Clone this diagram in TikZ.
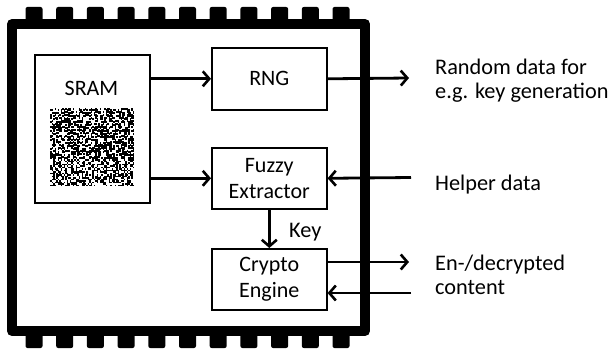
\documentclass[tikz,border=0pt]{standalone}
\usepackage{fontspec}
\setmainfont{Carlito}
\usetikzlibrary{arrows.meta}
\begin{document}
\begin{tikzpicture}[x=1pt,y=-1pt,
  blk/.style={draw, line width=1.6pt, minimum width=115pt, inner sep=0pt, align=center,
    anchor=north west, font=\fontsize{22}{26}\selectfont},
  conn/.style={line width=2.8pt, -{Straight Barb[length=6.5pt,width=15pt,line width=2.6pt]}},
  lbl/.style={anchor=base west, inner sep=0pt, font=\fontsize{22.3}{24}\selectfont},
  pin/.style={fill=black, rounded corners=2pt}]
\useasboundingbox (0,0) rectangle (613,350);
% pins
\foreach \i in {0,...,10} {
  \path[pin] ({25.5+30.7*\i},7) rectangle ++(17,14);
  \path[pin] ({25.5+30.7*\i},334) rectangle ++(17,14);
}
% chip frame
\draw[line width=10pt, line join=round, fill=white] (12,24) rectangle (365,331);
% blocks
\node[blk, minimum height=148pt] (sram) at (34,54) {};
\node[anchor=center, inner sep=0pt, font=\fontsize{22}{24}\selectfont] (sramlbl) at (91.5,88) {SRAM};
\node[blk, minimum height=62pt] (rng) at (211,47) {RNG};
\node[blk, minimum height=61pt] (fe) at (211,147) {Fuzzy\\Extractor};
\node[blk, minimum height=61pt] (ce) at (211,248) {Crypto\\Engine};
% noise
\pgfmathsetseed{4242}
\foreach \r in {0,...,51} {
  \foreach \c in {0,...,55} {
    \pgfmathrandominteger{\v}{0}{1}
    \ifnum\v=1 \fill ({50+1.5*\c},{108+1.5*\r}) rectangle ++(1.55,1.55); \fi
  }
}
% connectors
\coordinate (o1) at (409,78);
\coordinate (h) at (411,177.5);
\coordinate (c1) at (409,262);
\coordinate (c2) at (411,293);
\draw[conn] (sram.east |- rng.west) -- (rng.west);
\draw[conn] (sram.east |- fe.west) -- (fe.west);
\draw[conn] (rng.east) -- (o1);
\draw[conn] (h) -- (fe.east);
\draw[conn] (ce.east |- c1) -- (c1);
\draw[conn] (c2) -- (ce.east |- c2);
\draw[conn] (fe.south) -- (ce.north);
\node[lbl] (key) at (289,237) {Key};
% right labels
\node[lbl] (t1a) at (435,75) {Random data for};
\node[lbl] (t1b) at (435,99) {e.g. key generation};
\node[lbl] (t2) at (435,190) {Helper data};
\node[lbl] (t3a) at (435,270) {En-/decrypted};
\node[lbl] (t3b) at (435,294) {content};
\end{tikzpicture}
\end{document}
